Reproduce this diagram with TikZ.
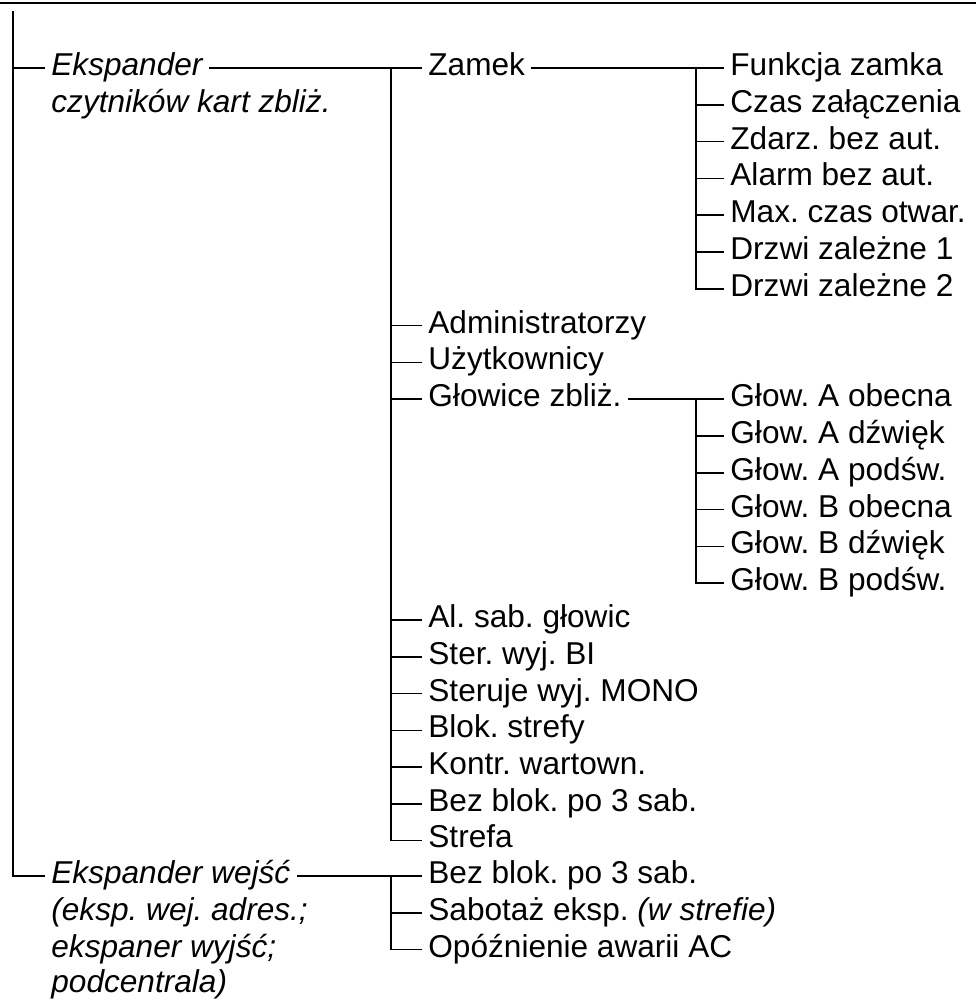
\documentclass[tikz,border=0pt]{standalone}
\usepackage{fontspec}
\setmainfont{Liberation Sans}
\usepackage{tikz}
\usetikzlibrary{positioning}
\frenchspacing
\tikzset{
  entry/.style={anchor=west, inner xsep=3pt, inner ysep=0pt, text height=7.4pt, text depth=0pt,
    font=\fontsize{15.8}{18.4}\selectfont},
  group/.style={entry, font=\fontsize{15.8}{18.4}\selectfont\itshape},
  wire/.style={line width=0.8pt}
}

\begin{document}
\begin{tikzpicture}[x=0.5pt, y=-0.5pt]
\useasboundingbox (0,0) rectangle (976,1001);
\draw[line width=1.4pt] (0,3) -- (976,3);

% modules
\node[group] (eks)  at (45,68)    {Ekspander};
\node[group] (czyt) at (45,104.8) {czytników kart zbliż.};
\node[group] (ekw)  at (45,876)   {Ekspander wejść};
\node[group] (ekw2) at (45,912.8) {(eksp. wej. adres.;};
\node[group] (ekw3) at (45,949.6) {ekspaner wyjść;};
\node[group] (ekw4) at (45,985.4) {podcentrala)};

% options of the card reader expander
\node[entry] (zam)  at (422,68)    {Zamek};
\node[entry] (adm)  at (422,325.6) {Administratorzy};
\node[entry] (uzy)  at (422,362.4) {Użytkownicy};
\node[entry] (glo)  at (422,399.2) {Głowice zbliż.};
\node[entry] (als)  at (422,620)   {Al. sab. głowic};
\node[entry] (ster) at (422,656.8) {Ster. wyj. BI};
\node[entry] (stm)  at (422,693.6) {Steruje wyj. MONO};
\node[entry] (blo)  at (422,730.4) {Blok. strefy};
\node[entry] (kon)  at (422,767.2) {Kontr. wartown.};
\node[entry] (bez)  at (422,804)   {Bez blok. po 3 sab.};
\node[entry] (str)  at (422,840.4) {Strefa};

% options of the input expander
\node[entry] (bezw) at (422,876)   {Bez blok. po 3 sab.};
\node[entry] (sab)  at (422,912.8) {Sabotaż eksp. \textit{(w strefie)}};
\node[entry] (opo)  at (422,949.6) {Opóźnienie awarii AC};

% lock
\node[entry] (fun)  at (724,68)    {Funkcja zamka};
\node[entry] (cza)  at (724,104.8) {Czas załączenia};
\node[entry] (zda)  at (724,141.6) {Zdarz. bez aut.};
\node[entry] (ala)  at (724,178.4) {Alarm bez aut.};
\node[entry] (max)  at (724,215.2) {Max. czas otwar.};
\node[entry] (drz1) at (724,252)   {Drzwi zależne 1};
\node[entry] (drz2) at (724,288.8) {Drzwi zależne 2};

% reader heads
\node[entry] (ga1) at (724,399.2) {Głow. A obecna};
\node[entry] (ga2) at (724,436)   {Głow. A dźwięk};
\node[entry] (ga3) at (724,472.8) {Głow. A podśw.};
\node[entry] (gb1) at (724,509.6) {Głow. B obecna};
\node[entry] (gb2) at (724,546.4) {Głow. B dźwięk};
\node[entry] (gb3) at (724,583.2) {Głow. B podśw.};

% buses
\coordinate (root) at (13,11);
\coordinate (busA) at (391,0);
\coordinate (busB) at (696,0);

\draw[wire] (root) |- (ekw.west);
\draw[wire] (root |- eks.west) -- (eks.west);

\draw[wire] (eks.east) -- (zam.west);
\draw[wire] (busA |- zam.west) |- (str.west);
\foreach \n in {adm,uzy,glo,als,ster,stm,blo,kon,bez}
  \draw[wire] (busA |- \n.west) -- (\n.west);

\draw[wire] (ekw.east) -- (bezw.west);
\draw[wire] (busA |- bezw.west) |- (opo.west);
\draw[wire] (busA |- sab.west) -- (sab.west);

\draw[wire] (zam.east) -- (fun.west);
\draw[wire] (busB |- fun.west) |- (drz2.west);
\foreach \n in {cza,zda,ala,max,drz1}
  \draw[wire] (busB |- \n.west) -- (\n.west);

\draw[wire] (glo.east) -- (ga1.west);
\draw[wire] (busB |- ga1.west) |- (gb3.west);
\foreach \n in {ga2,ga3,gb1,gb2}
  \draw[wire] (busB |- \n.west) -- (\n.west);
\end{tikzpicture}
\end{document}
